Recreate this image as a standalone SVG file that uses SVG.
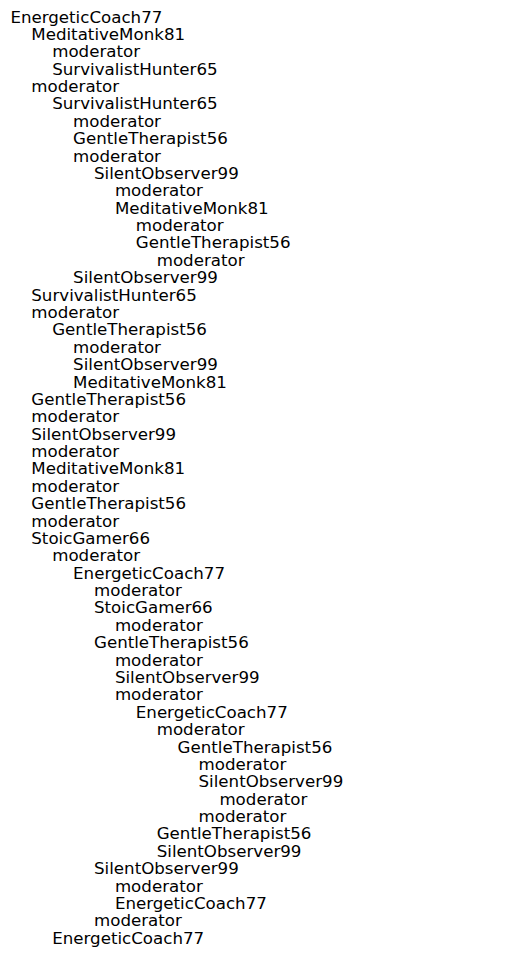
<svg xmlns="http://www.w3.org/2000/svg" width="515" height="974" viewBox="0 0 515 974">
<style>
text{font-family:"DejaVu Sans",sans-serif;font-size:16.67px;fill:#000}
</style>
<rect width="515" height="974" fill="#fff"/>
<g id="tree" transform="translate(0,0.6)">
<text x="10.4" y="22">EnergeticCoach77</text>
<text x="31.3" y="39.4">MeditativeMonk81</text>
<text x="52.2" y="56.8">moderator</text>
<text x="52.2" y="74.1">SurvivalistHunter65</text>
<text x="31.3" y="91.5">moderator</text>
<text x="52.2" y="108.9">SurvivalistHunter65</text>
<text x="73.1" y="126.3">moderator</text>
<text x="73.1" y="143.7">GentleTherapist56</text>
<text x="73.1" y="161">moderator</text>
<text x="94" y="178.4">SilentObserver99</text>
<text x="114.9" y="195.8">moderator</text>
<text x="114.9" y="213.2">MeditativeMonk81</text>
<text x="135.8" y="230.6">moderator</text>
<text x="135.8" y="247.9">GentleTherapist56</text>
<text x="156.7" y="265.3">moderator</text>
<text x="73.1" y="282.7">SilentObserver99</text>
<text x="31.3" y="300.1">SurvivalistHunter65</text>
<text x="31.3" y="317.5">moderator</text>
<text x="52.2" y="334.8">GentleTherapist56</text>
<text x="73.1" y="352.2">moderator</text>
<text x="73.1" y="369.6">SilentObserver99</text>
<text x="73.1" y="387">MeditativeMonk81</text>
<text x="31.3" y="404.4">GentleTherapist56</text>
<text x="31.3" y="421.7">moderator</text>
<text x="31.3" y="439.1">SilentObserver99</text>
<text x="31.3" y="456.5">moderator</text>
<text x="31.3" y="473.9">MeditativeMonk81</text>
<text x="31.3" y="491.3">moderator</text>
<text x="31.3" y="508.6">GentleTherapist56</text>
<text x="31.3" y="526">moderator</text>
<text x="31.3" y="543.4">StoicGamer66</text>
<text x="52.2" y="560.8">moderator</text>
<text x="73.1" y="578.2">EnergeticCoach77</text>
<text x="94" y="595.5">moderator</text>
<text x="94" y="612.9">StoicGamer66</text>
<text x="114.9" y="630.3">moderator</text>
<text x="94" y="647.7">GentleTherapist56</text>
<text x="114.9" y="665.1">moderator</text>
<text x="114.9" y="682.4">SilentObserver99</text>
<text x="114.9" y="699.8">moderator</text>
<text x="135.8" y="717.2">EnergeticCoach77</text>
<text x="156.7" y="734.6">moderator</text>
<text x="177.6" y="752">GentleTherapist56</text>
<text x="198.5" y="769.3">moderator</text>
<text x="198.5" y="786.7">SilentObserver99</text>
<text x="219.4" y="804.1">moderator</text>
<text x="198.5" y="821.5">moderator</text>
<text x="156.7" y="838.9">GentleTherapist56</text>
<text x="156.7" y="856.2">SilentObserver99</text>
<text x="94" y="873.6">SilentObserver99</text>
<text x="114.9" y="891">moderator</text>
<text x="114.9" y="908.4">EnergeticCoach77</text>
<text x="94" y="925.8">moderator</text>
<text x="52.2" y="943.1">EnergeticCoach77</text>
</g>
</svg>
